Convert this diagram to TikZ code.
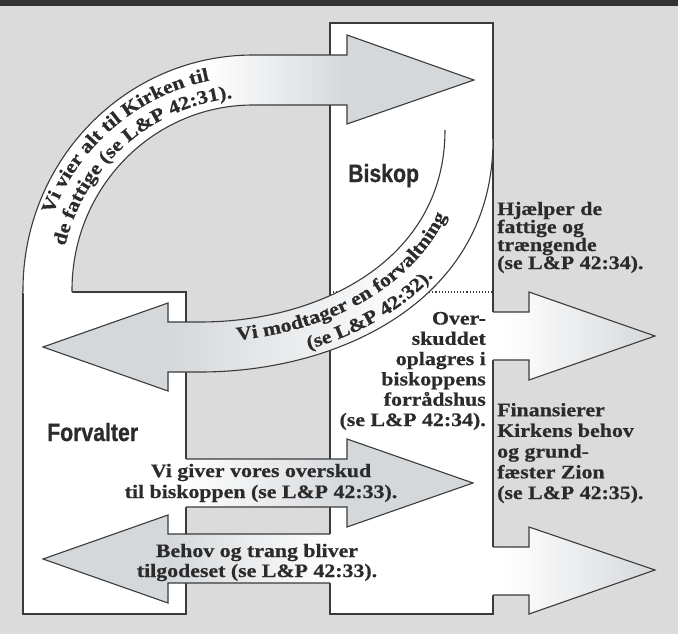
\documentclass[tikz,border=0pt]{standalone}
\usepackage{fontspec}
\usetikzlibrary{decorations.text}
\newfontfamily\labelfont[FakeStretch=0.85,FakeBold=0.8]{Liberation Sans}
\newfontfamily\serifbold[FakeStretch=1.15,FakeBold=0.6]{Liberation Serif}
\definecolor{bggray}{HTML}{DBDBDB}
\definecolor{barcol}{HTML}{333333}
\definecolor{linecol}{HTML}{3A3A3A}
\definecolor{agray}{HTML}{D5D8DB}
\definecolor{txtcol}{HTML}{2B2B2B}
\newcommand\rfont[1]{\serifbold\bfseries\fontsize{19}{#1}\selectfont\lineskiplimit=-40pt\relax}
\newcommand\bandfont{\serifbold\bfseries\fontsize{19}{20}\selectfont}
\tikzset{
  outline/.style={draw=linecol, line width=1.1pt, line join=miter},
  dotline/.style={draw=linecol, line width=1.1pt, dotted},
  biglabel/.style={inner sep=0pt, text=txtcol, anchor=base west,
    font=\labelfont\bfseries\fontsize{25}{25}\selectfont},
  sidetext/.style={inner sep=0pt, text=txtcol},
  curvetext/.style={decorate, decoration={text along path, text color=txtcol, #1}}
}
\begin{document}
\begin{tikzpicture}[x=1pt,y=1pt]
\useasboundingbox (0,0) rectangle (678,-634);
% background
\fill[bggray] (0,0) rectangle (678,-634);
\fill[barcol] (0,0) rectangle (678,-6);

% boxes
\fill[white] (23,-292) rectangle (186,-614);
\fill[white] (330,-23) rectangle (493,-614);
\draw[outline] (72,-292) -- (186,-292) -- (186,-614) -- (23,-614) -- (23,-292);
\draw[outline] (493,-312) -- (493,-23) -- (330,-23) -- (330,-614) -- (493,-614) -- (493,-595);
\draw[outline] (493,-360) -- (493,-547);
\draw[dotline] (330,-292) -- (493,-292);

% arrow A: curved, Forvalter -> Biskop
\begin{scope}
\clip (23,-293) -- (23,-290) arc[start angle=180,end angle=90,x radius=230,y radius=235]
  -- (347,-55) -- (347,-35) -- (474,-80) -- (347,-124) -- (347,-105) -- (253,-105)
  arc[start angle=90,end angle=180,x radius=181,y radius=185] -- (72,-293) -- cycle;
\fill[white] (0,0) rectangle (678,-634);
\shade[left color=white,right color=agray] (205,-20) rectangle (347,-140);
\fill[agray] (347,-20) rectangle (480,-140);
\end{scope}
\draw[outline] (23,-292) -- (23,-290) arc[start angle=180,end angle=90,x radius=230,y radius=235]
  -- (347,-55) -- (347,-35) -- (474,-80) -- (347,-124) -- (347,-105) -- (253,-105)
  arc[start angle=90,end angle=180,x radius=181,y radius=185] -- (72,-292);

% arrow B: curved, Biskop -> Forvalter
\begin{scope}
\clip (445,-130) .. controls (445,-260) and (320,-322) .. (200,-322) -- (168,-322) -- (168,-303)
  -- (43,-347) -- (168,-391) -- (168,-372) -- (200,-372)
  .. controls (340,-372) and (493,-300) .. (493,-140) -- (480,-128) -- cycle;
\fill[white] (0,0) rectangle (678,-634);
\shade[left color=agray,right color=white] (168,-120) rectangle (420,-400);
\fill[agray] (30,-290) rectangle (168,-400);
\end{scope}
\draw[outline] (445,-130) .. controls (445,-260) and (320,-322) .. (200,-322) -- (168,-322) -- (168,-303)
  -- (43,-347) -- (168,-391) -- (168,-372) -- (200,-372)
  .. controls (340,-372) and (493,-300) .. (493,-140);

% arrow C: Forvalter -> Biskop
\begin{scope}
\clip (184,-459) -- (347,-459) -- (347,-439) -- (473,-483) -- (347,-527) -- (347,-507) -- (184,-507) -- cycle;
\shade[left color=white,right color=agray] (184,-430) rectangle (347,-530);
\fill[agray] (347,-430) rectangle (480,-530);
\end{scope}
\draw[outline] (186,-459) -- (347,-459) -- (347,-439) -- (473,-483) -- (347,-527) -- (347,-507) -- (186,-507);

% arrow D: Biskop -> Forvalter
\begin{scope}
\clip (332,-534) -- (168,-534) -- (168,-515) -- (43,-559) -- (168,-603) -- (168,-583) -- (332,-583) -- cycle;
\shade[left color=agray,right color=white] (168,-500) rectangle (332,-610);
\fill[agray] (30,-500) rectangle (168,-610);
\end{scope}
\draw[outline] (330,-534) -- (168,-534) -- (168,-515) -- (43,-559) -- (168,-603) -- (168,-583) -- (330,-583);

% arrow E: upper right
\begin{scope}
\clip (491,-312) -- (529,-312) -- (529,-292) -- (655,-336) -- (529,-380) -- (529,-360) -- (491,-360) -- cycle;
\fill[white] (480,-280) rectangle (505,-390);
\shade[left color=white,right color=agray] (505,-280) rectangle (655,-390);
\end{scope}
\draw[outline] (493,-312) -- (529,-312) -- (529,-292) -- (655,-336) -- (529,-380) -- (529,-360) -- (493,-360);

% arrow F: lower right
\begin{scope}
\clip (491,-547) -- (529,-547) -- (529,-527) -- (655,-570) -- (529,-614) -- (529,-595) -- (491,-595) -- cycle;
\fill[white] (480,-520) rectangle (505,-620);
\shade[left color=white,right color=agray] (505,-520) rectangle (655,-620);
\end{scope}
\draw[outline] (493,-547) -- (529,-547) -- (529,-527) -- (655,-570) -- (529,-614) -- (529,-595) -- (493,-595);

% labels
\node[biglabel] (biskop) at (348,-182) {Biskop};
\node[biglabel] (forvalter) at (47,-441) {Forvalter};

% (base anchor of a multi-line node = baseline of its last line)
\node[sidetext, anchor=base west, align=left, font=\rfont{18}] (hjaelp) at (497,-269)
  {Hjælper de\\fattige og\\trængende\\(se L\&P 42:34).};
\node[sidetext, anchor=base west, align=left, font=\rfont{20.7}] (finans) at (497,-499)
  {Finansierer\\Kirkens behov\\og grund-\\fæster Zion\\(se L\&P 42:35).};
\node[sidetext, anchor=base east, align=right, font=\rfont{20.3}] (overskud) at (486,-426)
  {Over-\\skuddet\\oplagres i\\biskoppens\\forrådshus\\(se L\&P 42:34).};
\node[sidetext, anchor=base, align=center, font=\rfont{21}] (giver) at (261,-498)
  {Vi giver vores overskud\\til biskoppen (se L\&P 42:33).};
\node[sidetext, anchor=base, align=center, font=\rfont{20}] (behov) at (257,-577)
  {Behov og trang bliver\\tilgodeset (se L\&P 42:33).};

% curved texts
\path[curvetext={text={|\bandfont|Vi vier alt til Kirken til}, text align=center}]
  (39.5,-275.1) arc[start angle=176,end angle=85,radius=214];
\path[curvetext={text={|\bandfont|de fattige (se L{\&}P 42:31).}, text align=center}]
  (60.3,-279.9) arc[start angle=177,end angle=86,radius=193];
\path[curvetext={text={|\bandfont|Vi modtager en forvaltning}, text align={left indent=37pt}}]
  (200,-342) .. controls (328,-342) and (464,-276) .. (464,-134);
\path[curvetext={text={|\bandfont|(se L{\&}P 42:32).}, text align={left indent=110pt}}]
  (200,-364.5) .. controls (337,-364.5) and (486,-294) .. (486,-138.5);
\end{tikzpicture}
\end{document}
